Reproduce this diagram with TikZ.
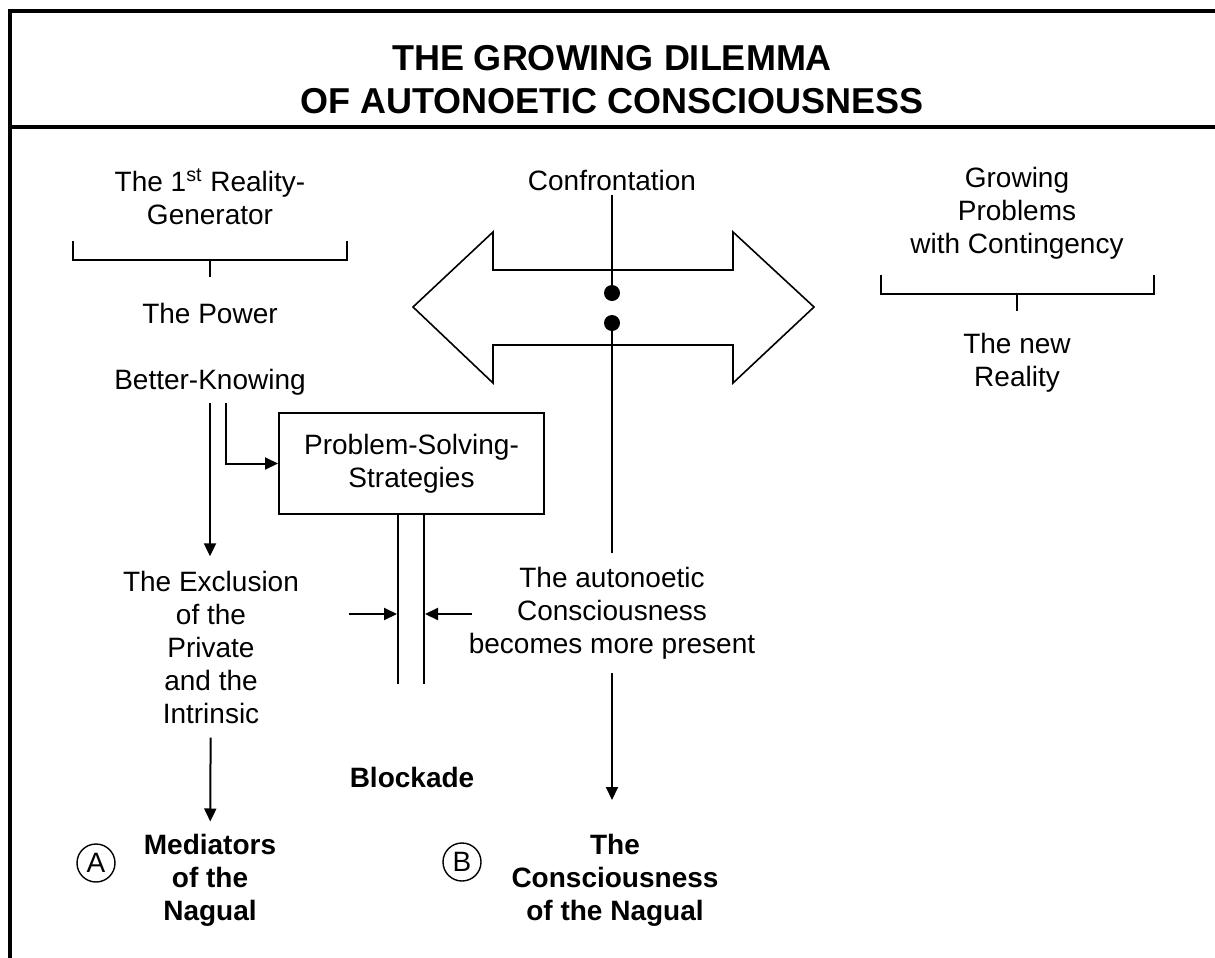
\documentclass[tikz,border=0pt]{standalone}
\usepackage{fontspec}
\setmainfont{Liberation Sans}
\usetikzlibrary{arrows.meta}

\tikzset{
    txt/.style = {align=center, font=\fontsize{14}{16.5}\selectfont, inner sep=2pt},
    boldtxt/.style = {txt, font=\fontsize{14}{16.5}\selectfont\bfseries},
    title/.style = {align=center, font=\fontsize{18}{21.5}\selectfont\bfseries},
    arr/.style = {-{Triangle[length=6.5pt,width=6pt]}, line width=1pt},
    thin/.style = {line width=1pt},
    letter/.style = {circle, draw, line width=0.7pt, minimum size=19pt, inner sep=0pt, font=\fontsize{14}{16.5}\selectfont},
    dot/.style = {circle, fill, minimum size=8pt, inner sep=0pt}
}

\begin{document}
\begin{tikzpicture}[x=0.5pt, y=-0.5pt]
            \useasboundingbox (0,0) rectangle (1215,958);

            % Frame
            \draw[line width=2pt] (9.5,958) -- (9.5,11) -- (1215,11);
            \draw[line width=2pt] (9.5,127) -- (1215,127);

            % Nodes with manual coordinates
            \node[title] (head) at (612,80) {THE GROWING DILEMMA\\OF AUTONOETIC CONSCIOUSNESS};

            \node[txt] (gen) at (210,197) {The 1\textsuperscript{st} Reality-\\Generator};
            \node[txt] (power) at (210,313) {The Power};
            \node[txt, inner sep=4pt] (bk) at (210,382) {Better-Knowing};
            \node[txt, inner sep=7pt] (excl) at (211,647) {The Exclusion\\of the\\Private\\and the\\Intrinsic};
            \node[boldtxt, inner sep=6pt] (medi) at (210,880) {Mediators\\of the\\Nagual};
            \node[letter] (a) at (96,863) {A};

            \node[txt] (conf) at (612,180) {Confrontation};
            \node[dot] (d1) at (612,293) {};
            \node[dot] (d2) at (612,323) {};
            \node[txt, inner sep=7pt] (auto) at (612,613) {The autonoetic\\Consciousness\\becomes more present};
            \node[boldtxt] (consc) at (615,880) {The\\Consciousness\\of the Nagual};
            \node[letter] (b) at (462,862) {B};
            \node[boldtxt] (block) at (412,777) {Blockade};

            \node[txt, draw, thin, minimum width=132.5pt, minimum height=50.5pt] (psbox) at (411.5,463.5) {Problem-Solving-\\Strategies};

            \node[txt] (grow) at (1017,213) {Growing\\Problems\\with Contingency};
            \node[txt] (newr) at (1017,363) {The new\\Reality};

            \coordinate (tip) at (612,800);
            \coordinate (pl) at (349,614);
            \coordinate (wl) at (397,614);
            \coordinate (pr) at (472,614);
            \coordinate (wr) at (425,614);

            % Double arrow
            \draw[line width=0.8pt] (413,307) -- (493,232) -- (493,270) -- (733,270) -- (733,232)
                -- (814,307) -- (733,383) -- (733,345) -- (493,345) -- (493,383) -- cycle;

            % Brackets
            \draw[thin] (73,241) -- (73,260) -- (347,260) -- (347,241);
            \draw[thin] (210,260) -- (210,277);
            \draw[thin] (881,275) -- (881,294) -- (1154,294) -- (1154,275);
            \draw[thin] (1017,294) -- (1017,311);

            % Edges
            \draw[thin] (conf) -- (d1);
            \draw[thin] (d2) -- (auto);
            \draw[arr] (auto) -- (tip);
            \draw[arr] (bk.south) -- (excl.north -| bk.south);
            \draw[arr] ([xshift=8pt]bk.south) |- (psbox.west);
            \draw[arr] (excl) -- (medi);
            \draw[thin] ([xshift=-6.75pt]psbox.south) -- ++(0,169);
            \draw[thin] ([xshift=6.25pt]psbox.south) -- ++(0,169);
            \draw[arr] (pl) -- (wl);
            \draw[arr] (pr) -- (wr);
        \end{tikzpicture}
\end{document}
